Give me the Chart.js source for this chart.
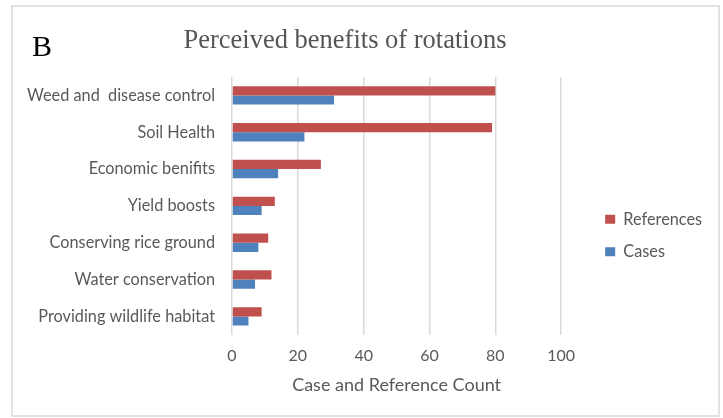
<!DOCTYPE html>
<html>
<head>
<meta charset="utf-8">
<script src="https://cdn.jsdelivr.net/npm/chart.js@4.4.0/dist/chart.umd.min.js"></script>
<style>
    html, body { margin: 0; padding: 0; background: #fff; }
    #frame {
        position: absolute; left: 11px; top: 5px;
        width: 705px; height: 408px;
        border: 2px solid #e2e2e2;
    }
    #chart { position: absolute; left: 0; top: 0; }
</style>
</head>
<body>
<div id="frame"></div>
<canvas id="chart" width="723" height="418"></canvas>
<script>
// Data
const categories = [
    'Weed and  disease control',
    'Soil Health',
    'Economic benifits',
    'Yield boosts',
    'Conserving rice ground',
    'Water conservation',
    'Providing wildlife habitat'
];
const references = [80, 79, 27, 13, 11, 12, 9];
const cases = [31, 22, 14, 9, 8, 7, 5];
const xTicks = [0, 20, 40, 60, 80, 100];

const panelLetter = 'B';
const chartTitle = 'Perceived benefits of rotations';

const textGray = '#595959';
const gridGray = '#d9d9d9';
const sansFont = 'Lato';

// Panel letter and title, drawn above the plot
const headerPlugin = {
    id: 'header',
    afterDraw(chart) {
        const ctx = chart.ctx;
        ctx.save();
        ctx.textBaseline = 'alphabetic';
        ctx.fillStyle = '#000';
        ctx.font = '30px "Liberation Serif"';
        ctx.textAlign = 'left';
        ctx.fillText(panelLetter, 32, 56);
        ctx.fillStyle = '#555';
        ctx.font = '26.5px "Liberation Serif"';
        ctx.textAlign = 'center';
        ctx.fillText(chartTitle, 345, 48);
        ctx.restore();
    }
};

const ctx = document.getElementById('chart').getContext('2d');
new Chart(ctx, {
    type: 'bar',
    data: {
        labels: categories,
        datasets: [
            {
                label: 'References',
                data: references,
                backgroundColor: '#c0504d',
                categoryPercentage: 0.5,
                barPercentage: 1.0
            },
            {
                label: 'Cases',
                data: cases,
                backgroundColor: '#4f81bd',
                categoryPercentage: 0.5,
                barPercentage: 1.0
            }
        ]
    },
    options: {
        indexAxis: 'y',
        responsive: false,
        animation: false,
        layout: { padding: { top: 77, left: 0, right: 16, bottom: 24 } },
        plugins: {
            legend: {
                position: 'right',
                labels: {
                    boxWidth: 10,
                    boxHeight: 9,
                    padding: 16,
                    color: textGray,
                    font: { family: sansFont, size: 16.3 }
                }
            },
            tooltip: { enabled: false }
        },
        scales: {
            x: {
                min: 0,
                max: 100,
                afterBuildTicks: (scale) => {
                    scale.ticks = xTicks.map(v => ({ value: v }));
                },
                grid: { color: gridGray, lineWidth: 1.5, drawTicks: false },
                border: { display: false },
                ticks: { color: textGray, padding: 11, font: { family: sansFont, size: 16 } },
                title: {
                    display: true,
                    text: 'Case and Reference Count',
                    color: textGray,
                    padding: { top: 0, bottom: 0 },
                    font: { family: sansFont, size: 18, lineHeight: 1.0 }
                }
            },
            y: {
                afterFit: (scale) => { scale.width = 232; },
                grid: { display: false, drawTicks: false },
                border: { display: false },
                ticks: { color: textGray, padding: 17, font: { family: sansFont, size: 16.3 } }
            },
            // empty strip that keeps the plot clear of the legend
            gap: {
                axis: 'y',
                type: 'category',
                position: 'right',
                display: true,
                afterFit: (scale) => { scale.width = 28; },
                grid: { display: false, drawTicks: false },
                border: { display: false },
                ticks: { display: false }
            }
        }
    },
    plugins: [headerPlugin]
});
</script>
</body>
</html>
